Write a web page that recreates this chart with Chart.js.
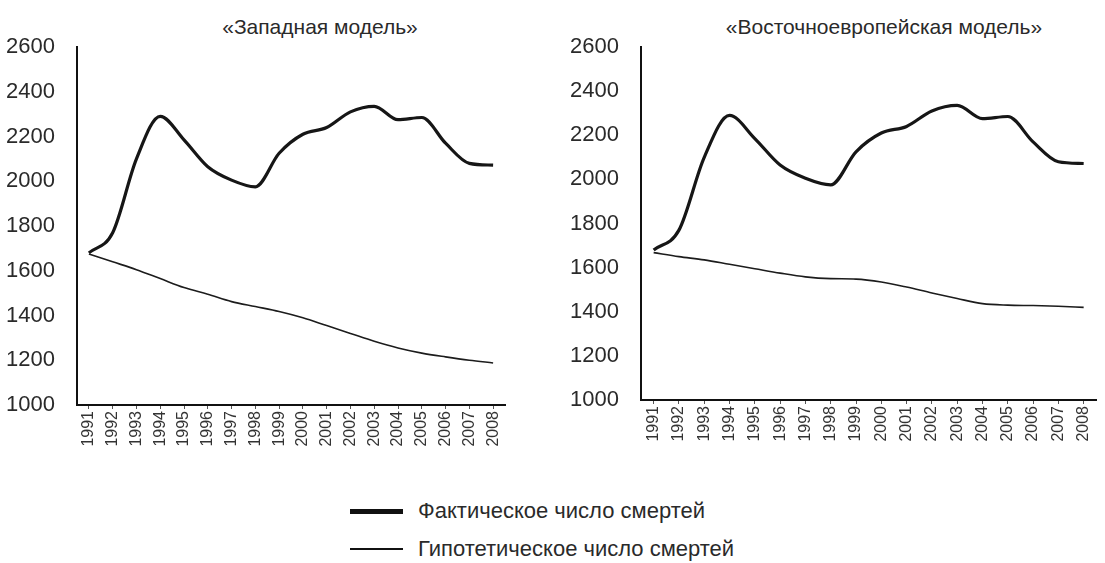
<!DOCTYPE html>
<html>
<head>
<meta charset="utf-8">
<script src="https://cdn.jsdelivr.net/npm/chart.js@4.4.0/dist/chart.umd.min.js"></script>
<style>
  html, body { margin: 0; padding: 0; background: #fff; }
  body { width: 1105px; height: 563px; position: relative; overflow: hidden; font-family: 'Liberation Sans', Arial, sans-serif; color: #222; }
  .box { position: absolute; }
  .title { position: absolute; font-size: 21px; color: #2a2a2a; white-space: nowrap; transform: translateX(-50%); }
  .legend { position: absolute; left: 350px; font-size: 22px; color: #2a2a2a; }
  .legend .row { position: absolute; left: 0; white-space: nowrap; height: 26px; }
  .legend .sw { position: absolute; left: 0; width: 53px; background: #111; }
  .legend .tx { position: absolute; left: 68px; top: 0; line-height: 26px; }
</style>
</head>
<body>
<div class="title" style="left:320px; top:15px;">«Западная модель»</div>
<div class="title" style="left:884px; top:15px;">«Восточноевропейская модель»</div>

<div class="box" style="left:0; top:0; width:545px; height:460px;"><canvas id="c1"></canvas></div>
<div class="box" style="left:560px; top:0; width:545px; height:460px;"><canvas id="c2"></canvas></div>

<div class="legend" style="top:0;">
  <div class="row" style="top:498px;"><div class="sw" style="top:11px; height:5px;"></div><div class="tx">Фактическое число смертей</div></div>
  <div class="row" style="top:536px;"><div class="sw" style="top:12px; height:2px;"></div><div class="tx">Гипотетическое число смертей</div></div>
</div>

<script>
const years = ['1991','1992','1993','1994','1995','1996','1997','1998','1999','2000','2001','2002','2003','2004','2005','2006','2007','2008'];
const actualDeaths = [1680, 1770, 2100, 2290, 2185, 2065, 2005, 1975, 2125, 2210, 2240, 2310, 2335, 2275, 2285, 2170, 2080, 2072];
const hypotheticalWest = [1675, 1640, 1605, 1565, 1525, 1495, 1462, 1440, 1418, 1390, 1355, 1320, 1285, 1255, 1232, 1215, 1200, 1188];
const hypotheticalEast = [1668, 1650, 1635, 1615, 1595, 1575, 1558, 1550, 1548, 1535, 1512, 1485, 1460, 1437, 1430, 1428, 1425, 1420];
const seriesNames = ['Фактическое число смертей', 'Гипотетическое число смертей'];
const yTicks = { min: 1000, max: 2600, step: 200 };

function makeChart(id, hypo, yWidth, yPad, xHeight, rightPad, topPad) {
  const ctx = document.getElementById(id);
  return new Chart(ctx, {
    type: 'line',
    data: {
      labels: years,
      datasets: [
        { label: seriesNames[0], data: actualDeaths, borderColor: '#161616', borderWidth: 3.2, pointRadius: 0, tension: 0.4, cubicInterpolationMode: 'monotone', fill: false },
        { label: seriesNames[1], data: hypo, borderColor: '#1c1c1c', borderWidth: 1.6, pointRadius: 0, tension: 0.4, cubicInterpolationMode: 'monotone', fill: false }
      ]
    },
    options: {
      responsive: true,
      maintainAspectRatio: false,
      animation: false,
      layout: { padding: { top: topPad, right: rightPad, left: 0, bottom: 0 } },
      plugins: { legend: { display: false }, title: { display: false }, tooltip: { enabled: false } },
      scales: {
        x: {
          type: 'category',
          offset: true,
          grid: { display: true, drawOnChartArea: false, drawTicks: true, tickLength: 4, color: '#555', lineWidth: 1 },
          border: { display: true, color: '#111', width: 2 },
          ticks: { minRotation: 90, maxRotation: 90, autoSkip: false, padding: 2, color: '#333', font: { family: "'Liberation Sans', Arial, sans-serif", size: 16 } },
          afterFit: (s) => { s.height = xHeight; }
        },
        y: {
          min: yTicks.min, max: yTicks.max,
          grid: { display: false },
          border: { display: true, color: '#111', width: 2 },
          ticks: { stepSize: yTicks.step, padding: yPad, color: '#2a2a2a', font: { family: "'Liberation Sans', Arial, sans-serif", size: 22 }, callback: (v) => String(v) },
          afterFit: (s) => { s.width = yWidth; }
        }
      }
    }
  });
}

makeChart('c1', hypotheticalWest, 77, 14, 55, 40, 47);
makeChart('c2', hypotheticalEast, 81, 14, 60, 5, 47);
</script>
</body>
</html>
